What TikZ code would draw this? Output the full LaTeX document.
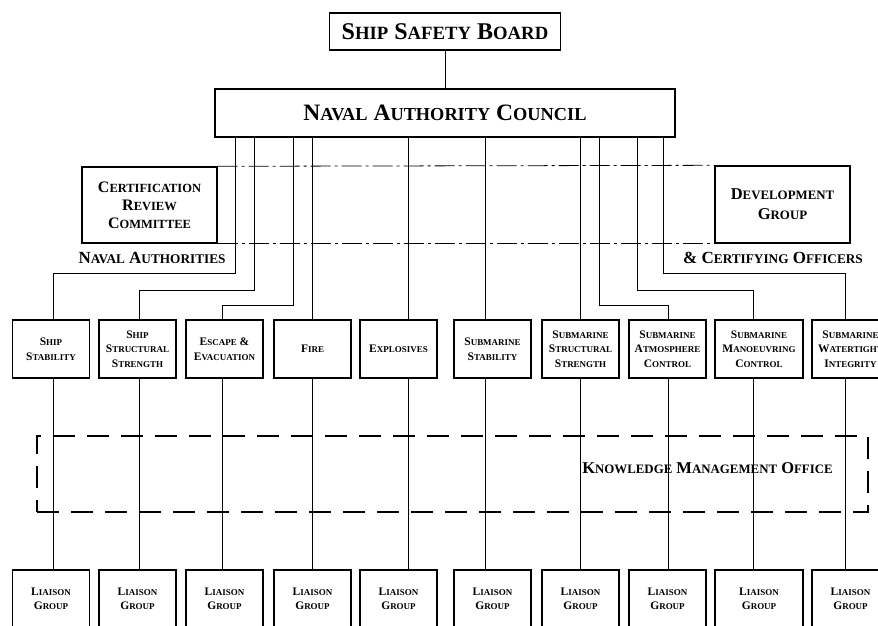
\documentclass[tikz,border=0pt]{standalone}
\usepackage{fontspec}
\setmainfont{Liberation Serif}
\makeatletter
\newcommand\sk[1]{{\fontsize{\strip@pt\dimexpr0.78\dimexpr\f@size pt\relax\relax}{\f@baselineskip}\selectfont #1}}
\makeatother
\tikzset{
  unitbox/.style={draw, line width=1.3pt, minimum width=77pt, minimum height=58pt, inner sep=0pt, align=center,
    font=\bfseries\fontsize{11.5}{14.5}\selectfont},
  bigbox/.style={draw, line width=1.4pt, inner sep=0pt, align=center},
  conn/.style={line width=0.7pt},
  bandline/.style={line width=0.8pt, dash pattern=on 20pt off 4pt on 3pt off 4pt},
  kmobox/.style={draw, line width=1.2pt, dash pattern=on 22pt off 12pt, minimum width=831pt, minimum height=76pt, inner sep=0pt},
  lbl/.style={font=\bfseries\fontsize{17}{20}\selectfont, inner sep=0pt}
}
\begin{document}
\begin{tikzpicture}[x=1pt,y=-1pt]
\useasboundingbox (0,0) rectangle (878,625);
\clip (0,0) rectangle (878,625);
% top
\node[bigbox, minimum width=231pt, minimum height=37pt, font=\bfseries\fontsize{24}{28}\selectfont] (ssb) at (445,31.5) {S\sk{HIP} S\sk{AFETY} B\sk{OARD}};
\node[bigbox, minimum width=460pt, minimum height=48pt, font=\bfseries\fontsize{23.5}{28}\selectfont] (nac) at (445,113) {N\sk{AVAL} A\sk{UTHORITY} C\sk{OUNCIL}};
\draw[conn] (ssb.south) -- (nac.north);
% committees
\node[bigbox, minimum width=135pt, minimum height=76pt, font=\bfseries\fontsize{16}{18}\selectfont] (crc) at (149.5,205) {C\sk{ERTIFICATION}\\R\sk{EVIEW}\\C\sk{OMMITTEE}};
\node[bigbox, minimum width=135pt, minimum height=77pt, font=\bfseries\fontsize{16.5}{20}\selectfont] (dg) at (782.5,204.5) {D\sk{EVELOPMENT}\\G\sk{ROUP}};
\draw[bandline] (crc.north east) -- (dg.north west);
\draw[bandline] (crc.south east) -- (dg.south west);
\node[lbl] (na) at (152,258) {N\sk{AVAL} A\sk{UTHORITIES}};
\node[lbl] (co) at (773,258) {\& C\sk{ERTIFYING} O\sk{FFICERS}};
% knowledge management office
\node[kmobox] (kmo) at (452.5,474) {};
\node[lbl, font=\bfseries\fontsize{16.5}{20}\selectfont] (kmot) at (707.5,468) {K\sk{NOWLEDGE} M\sk{ANAGEMENT} O\sk{FFICE}};
% row 1
\node[unitbox] (r1) at (51,349) {S\sk{HIP}\\S\sk{TABILITY}};
\node[unitbox] (r2) at (137.5,349) {S\sk{HIP}\\S\sk{TRUCTURAL}\\S\sk{TRENGTH}};
\node[unitbox] (r3) at (224.5,349) {E\sk{SCAPE} \&\\E\sk{VACUATION}};
\node[unitbox] (r4) at (312.5,349) {F\sk{IRE}};
\node[unitbox] (r5) at (398.5,349) {E\sk{XPLOSIVES}};
\node[unitbox] (r6) at (492.5,349) {S\sk{UBMARINE}\\S\sk{TABILITY}};
\node[unitbox] (r7) at (580.5,349) {S\sk{UBMARINE}\\S\sk{TRUCTURAL}\\S\sk{TRENGTH}};
\node[unitbox] (r8) at (667.5,349) {S\sk{UBMARINE}\\A\sk{TMOSPHERE}\\C\sk{ONTROL}};
\node[unitbox, minimum width=88pt] (r9) at (759,349) {S\sk{UBMARINE}\\M\sk{ANOEUVRING}\\C\sk{ONTROL}};
\node[unitbox] (r10) at (850.5,349) {S\sk{UBMARINE}\\W\sk{ATERTIGHT}\\I\sk{NTEGRITY}};
% row 2
\foreach \i/\x in {1/51,2/137.5,3/224.5,4/312.5,5/398.5,6/492.5,7/580.5,8/667.5,10/850.5}{
  \node[unitbox] (l\i) at (\x,599) {L\sk{IAISON}\\G\sk{ROUP}};
}
\node[unitbox, minimum width=88pt] (l9) at (759,599) {L\sk{IAISON}\\G\sk{ROUP}};
% column coordinates
\coordinate (c1) at (53,0);  \coordinate (c2) at (139,0); \coordinate (c3) at (222,0);
\coordinate (c4) at (312,0); \coordinate (c5) at (408,0); \coordinate (c6) at (485,0);
\coordinate (c7) at (580,0); \coordinate (c8) at (668,0); \coordinate (c9) at (753,0);
\coordinate (c10) at (845,0);
\coordinate (t1) at (235,0); \coordinate (t2) at (254,0); \coordinate (t3) at (293,0);
\coordinate (t8) at (599,0); \coordinate (t9) at (637,0); \coordinate (t10) at (663,0);
\coordinate (h1) at (53,273); \coordinate (h2) at (139,290); \coordinate (h3) at (222,305);
\coordinate (h8) at (668,305); \coordinate (h9) at (753,290); \coordinate (h10) at (845,273);
% connectors NAC -> row 1
\foreach \i in {1,2,3,8,9,10}{
  \draw[conn] (nac.south -| t\i) |- (h\i) -- (r\i.north -| h\i);
}
\foreach \i in {4,5,6,7}{
  \draw[conn] (nac.south -| c\i) -- (r\i.north -| c\i);
}
% row 1 -> row 2
\foreach \i in {1,...,10}{
  \draw[conn] (r\i.south -| c\i) -- (l\i.north -| c\i);
}
\end{tikzpicture}
\end{document}
